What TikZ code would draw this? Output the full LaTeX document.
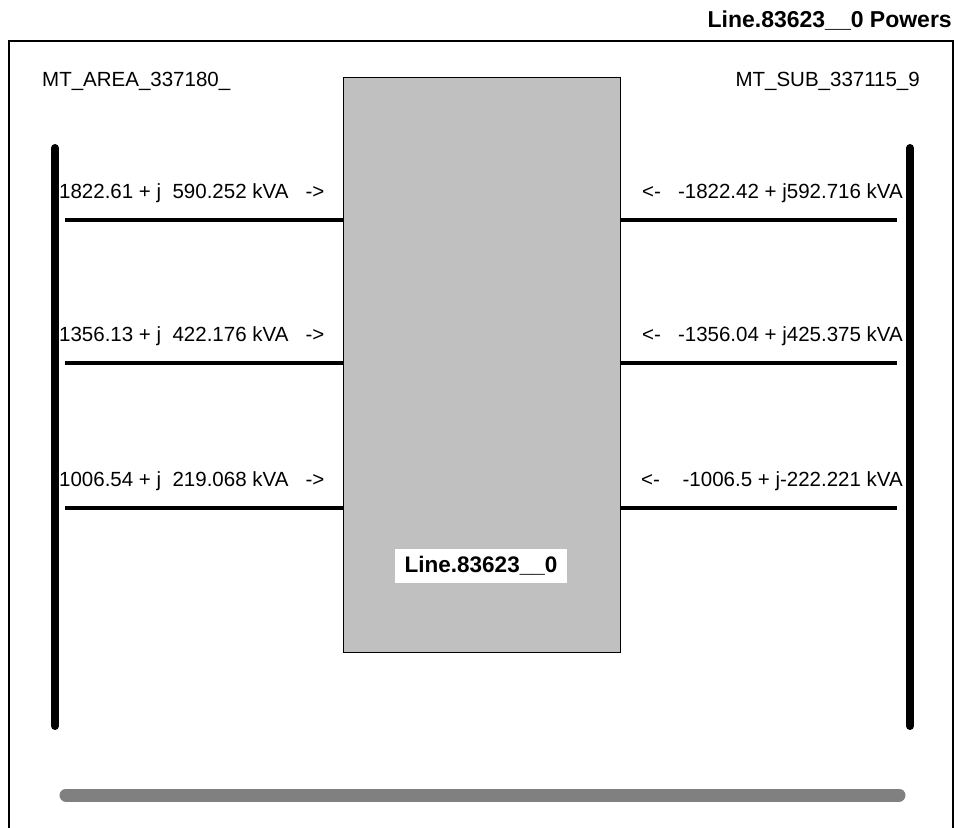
\documentclass[tikz,border=0pt]{standalone}
\usepackage{fontspec}
\setmainfont{Liberation Sans}
\begin{document}
\begin{tikzpicture}[x=1pt,y=-1pt,
  lbl/.style={inner sep=0pt, font=\fontsize{20.5}{24}\selectfont},
  bus/.style={line width=8pt, line cap=round},
  feeder/.style={line width=4pt},
  lineblock/.style={draw=black, fill={rgb,255:red,192;green,192;blue,192}, line width=1pt}]
\useasboundingbox (0,0) rectangle (958,827);
\fill[white] (0,0) rectangle (958,827);
% frame
\draw[line width=1.3pt] (9,840) -- (9,41) -- (953,41) -- (953,840);
% title
\node[anchor=east, inner sep=0pt, font=\bfseries\fontsize{23}{26}\selectfont] (title) at (952,21) {Line.83623\_\_0 Powers};
% bus names
\node[lbl, anchor=west] (areaname) at (42,81) {MT\_AREA\_337180\_};
\node[lbl, anchor=east] (subname) at (920,81) {MT\_SUB\_337115\_9};
% central block
\node[lineblock, minimum width=277pt, minimum height=575pt, inner sep=0pt, anchor=north west] (blk) at (343,77) {};
\node[fill=white, inner xsep=10pt, inner ysep=0pt, minimum height=34pt, font=\bfseries\fontsize{22.5}{24}\selectfont] (blklbl) at (481,566) {Line.83623\_\_0};
% buses
\coordinate (lbt) at (55,148);
\coordinate (lbb) at (55,726);
\coordinate (rbt) at (910,148);
\coordinate (rbb) at (910,726);
\draw[bus] (lbt) -- (lbb);
\draw[bus] (rbt) -- (rbb);
% feeders
\foreach \y/\n in {220/a,363/b,508/c}{
  \coordinate (l\n) at (65,\y);
  \coordinate (r\n) at (897,\y);
  \draw[feeder] (l\n) -- (blk.west |- l\n);
  \draw[feeder] (blk.east |- r\n) -- (r\n);
}
% texts
\node[lbl, anchor=west] (ta) at (59,193) {1822.61 + j\ \ 590.252 kVA\ \ \ ->};
\node[lbl, anchor=west] (tb) at (59,336) {1356.13 + j\ \ 422.176 kVA\ \ \ ->};
\node[lbl, anchor=west] (tc) at (59,481) {1006.54 + j\ \ 219.068 kVA\ \ \ ->};
\node[lbl, anchor=east] (ua) at (903,193) {<-\ \ \ -1822.42 + j592.716 kVA};
\node[lbl, anchor=east] (ub) at (903,336) {<-\ \ \ -1356.04 + j425.375 kVA};
\node[lbl, anchor=east] (uc) at (903,481) {<-\ \ \ \ -1006.5 + j-222.221 kVA};
% bottom bar
\coordinate (bl) at (66,795);
\coordinate (br) at (899,795);
\draw[line width=13pt, line cap=round, color={rgb,255:red,128;green,128;blue,128}] (bl) -- (br);
\end{tikzpicture}
\end{document}
